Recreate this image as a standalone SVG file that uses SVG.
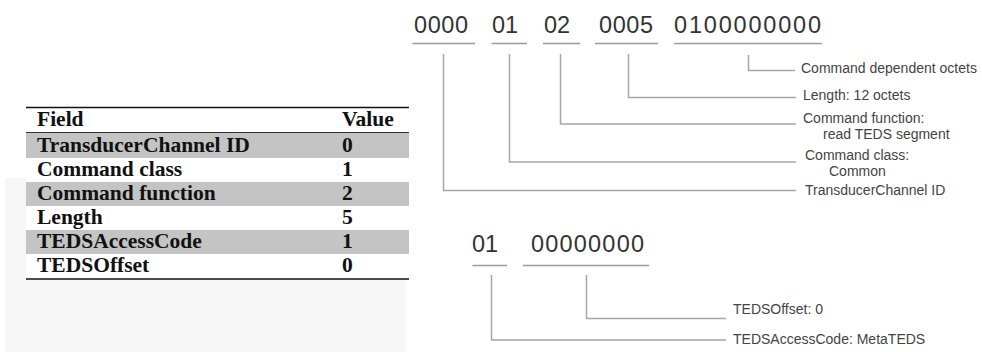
<svg xmlns="http://www.w3.org/2000/svg" width="982" height="352" viewBox="0 0 982 352">
<style>
.tbl{font-family:"Liberation Serif","Times New Roman",serif;font-weight:bold;font-size:21.5px;fill:#111}
.num{font-family:"Liberation Sans",Arial,sans-serif;font-size:23.5px;fill:#333}
.lbl{font-family:"Liberation Sans",Arial,sans-serif;font-size:14px;fill:#444}
.ul{stroke:#9a9a9a;stroke-width:1.5;fill:none}
.con{stroke:#a6a6a6;stroke-width:1.5;fill:none}
.shade{fill:#c4c4c4}
</style>
<rect x="0" y="0" width="982" height="352" fill="#fff"/>
<rect x="5" y="178" width="401" height="174" fill="#f7f7f7"/>
<g id="table">
  <rect x="26" y="108" width="383" height="171" fill="#fff"/>
  <rect class="shade" x="26" y="133" width="383" height="25"/>
  <rect class="shade" x="26" y="182" width="383" height="24"/>
  <rect class="shade" x="26" y="230" width="383" height="24"/>
  <line x1="26" y1="107.5" x2="409" y2="107.5" stroke="#111" stroke-width="1.5"/>
  <line x1="26" y1="132.5" x2="409" y2="132.5" stroke="#333" stroke-width="1"/>
  <line x1="26" y1="279" x2="409" y2="279" stroke="#111" stroke-width="1.5"/>
  <text class="tbl" x="37" y="126">Field</text><text class="tbl" x="342" y="126">Value</text>
  <text class="tbl" x="37" y="152">TransducerChannel ID</text><text class="tbl" x="342" y="152">0</text>
  <text class="tbl" x="37" y="176">Command class</text><text class="tbl" x="342" y="176">1</text>
  <text class="tbl" x="37" y="200">Command function</text><text class="tbl" x="342" y="200">2</text>
  <text class="tbl" x="37" y="224">Length</text><text class="tbl" x="342" y="224">5</text>
  <text class="tbl" x="37" y="248">TEDSAccessCode</text><text class="tbl" x="342" y="248">1</text>
  <text class="tbl" x="37" y="272">TEDSOffset</text><text class="tbl" x="342" y="272">0</text>
</g>
<g id="field-channel"><text class="num" x="414" y="33" textLength="54" lengthAdjust="spacing">0000</text><line class="ul" x1="412.5" y1="43.5" x2="475" y2="43.5"/></g>
<g id="field-class"><text class="num" x="492" y="33">01</text><line class="ul" x1="491.5" y1="43.5" x2="527" y2="43.5"/></g>
<g id="field-function"><text class="num" x="544" y="33">02</text><line class="ul" x1="543" y1="43.5" x2="580" y2="43.5"/></g>
<g id="field-length"><text class="num" x="599" y="33" textLength="54" lengthAdjust="spacing">0005</text><line class="ul" x1="595" y1="43.5" x2="658" y2="43.5"/></g>
<g id="field-dependent"><text class="num" x="674" y="33" textLength="147" lengthAdjust="spacing">0100000000</text><line class="ul" x1="674" y1="43.5" x2="822" y2="43.5"/></g>
<g id="field-access"><text class="num" x="472" y="252">01</text><line class="ul" x1="472.5" y1="265.5" x2="507" y2="265.5"/></g>
<g id="field-offset"><text class="num" x="531" y="252" textLength="113" lengthAdjust="spacing">00000000</text><line class="ul" x1="523" y1="265.5" x2="649" y2="265.5"/></g>
<g id="label-dependent"><text class="lbl" x="801" y="73">Command dependent octets</text></g>
<g id="label-length"><text class="lbl" x="803" y="100">Length: 12 octets</text></g>
<g id="label-function"><text class="lbl" x="803" y="123">Command function:</text><text class="lbl" x="823" y="139">read TEDS segment</text></g>
<g id="label-class"><text class="lbl" x="805" y="160">Command class:</text><text class="lbl" x="829" y="176">Common</text></g>
<g id="label-channel"><text class="lbl" x="805" y="195">TransducerChannel ID</text></g>
<g id="label-offset"><text class="lbl" x="733" y="314">TEDSOffset: 0</text></g>
<g id="label-access"><text class="lbl" x="733" y="344">TEDSAccessCode: MetaTEDS</text></g>
<g id="connectors">
  <polyline class="con" points="748.5,55 748.5,70.5 795,70.5"/>
  <polyline class="con" points="628.5,54 628.5,97.5 796,97.5"/>
  <polyline class="con" points="560.5,54 560.5,124 796,124"/>
  <polyline class="con" points="509.5,54 509.5,162 796,162"/>
  <polyline class="con" points="443.5,54 443.5,190.5 796,190.5"/>
  <polyline class="con" points="586.5,275 586.5,318.5 726,318.5"/>
  <polyline class="con" points="491.5,275 491.5,340 726,340"/>
</g>
</svg>
